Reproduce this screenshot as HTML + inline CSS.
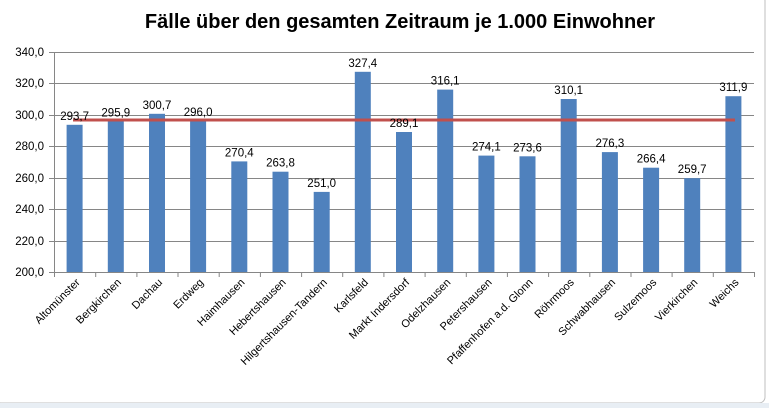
<!DOCTYPE html><html><head><style>body{margin:0;width:769px;height:408px;overflow:hidden;background:#fff;font-family:"Liberation Sans",sans-serif}</style></head><body>
<svg width="769" height="408" xmlns="http://www.w3.org/2000/svg" font-family="Liberation Sans, sans-serif">
<rect x="-5" y="-5" width="770" height="408" rx="6" fill="#fff" stroke="#bfbfbf"/>
<rect x="0" y="403" width="769" height="5" fill="#e8eef4"/>
<text x="400" y="28" font-size="20" font-weight="bold" text-anchor="middle">Fälle über den gesamten Zeitraum je 1.000 Einwohner</text>
<g stroke="#868686" stroke-width="1">
<line x1="49" y1="52.5" x2="754" y2="52.5"/><line x1="49" y1="83.5" x2="754" y2="83.5"/><line x1="49" y1="115.5" x2="754" y2="115.5"/><line x1="49" y1="146.5" x2="754" y2="146.5"/><line x1="49" y1="178.5" x2="754" y2="178.5"/><line x1="49" y1="209.5" x2="754" y2="209.5"/><line x1="49" y1="241.5" x2="754" y2="241.5"/><line x1="49" y1="272.5" x2="754" y2="272.5"/>
<line x1="54.5" y1="52" x2="54.5" y2="272"/>
<line x1="54.5" y1="272" x2="54.5" y2="277"/><line x1="95.7" y1="272" x2="95.7" y2="277"/><line x1="136.9" y1="272" x2="136.9" y2="277"/><line x1="178" y1="272" x2="178" y2="277"/><line x1="219.2" y1="272" x2="219.2" y2="277"/><line x1="260.4" y1="272" x2="260.4" y2="277"/><line x1="301.6" y1="272" x2="301.6" y2="277"/><line x1="342.7" y1="272" x2="342.7" y2="277"/><line x1="383.9" y1="272" x2="383.9" y2="277"/><line x1="425.1" y1="272" x2="425.1" y2="277"/><line x1="466.3" y1="272" x2="466.3" y2="277"/><line x1="507.4" y1="272" x2="507.4" y2="277"/><line x1="548.6" y1="272" x2="548.6" y2="277"/><line x1="589.8" y1="272" x2="589.8" y2="277"/><line x1="631" y1="272" x2="631" y2="277"/><line x1="672.1" y1="272" x2="672.1" y2="277"/><line x1="713.3" y1="272" x2="713.3" y2="277"/><line x1="754.5" y1="272" x2="754.5" y2="277"/>
</g>
<g font-size="11.5" text-anchor="end"><text x="44" y="56">340,0</text><text x="44" y="87">320,0</text><text x="44" y="119">300,0</text><text x="44" y="150">280,0</text><text x="44" y="182">260,0</text><text x="44" y="213">240,0</text><text x="44" y="245">220,0</text><text x="44" y="276">200,0</text></g>
<g fill="#4f81bd">
<rect x="66.6" y="124.8" width="16" height="147.2"/>
<rect x="107.8" y="121.3" width="16" height="150.7"/>
<rect x="149" y="113.8" width="16" height="158.2"/>
<rect x="190.1" y="121.1" width="16" height="150.9"/>
<rect x="231.3" y="161.4" width="16" height="110.6"/>
<rect x="272.5" y="171.7" width="16" height="100.3"/>
<rect x="313.7" y="191.9" width="16" height="80.1"/>
<rect x="354.8" y="71.8" width="16" height="200.2"/>
<rect x="396" y="132" width="16" height="140"/>
<rect x="437.2" y="89.6" width="16" height="182.4"/>
<rect x="478.4" y="155.6" width="16" height="116.4"/>
<rect x="519.5" y="156.3" width="16" height="115.7"/>
<rect x="560.7" y="99" width="16" height="173"/>
<rect x="601.9" y="152.1" width="16" height="119.9"/>
<rect x="643.1" y="167.7" width="16" height="104.3"/>
<rect x="684.2" y="178.2" width="16" height="93.8"/>
<rect x="725.4" y="96.2" width="16" height="175.8"/>
</g>
<line x1="73" y1="120" x2="735" y2="120" stroke="#c0504d" stroke-width="3"/>
<g font-size="11.5" text-anchor="middle">
<text x="74.6" y="119.8">293,7</text>
<text x="115.8" y="116.3">295,9</text>
<text x="157" y="108.8">300,7</text>
<text x="198.1" y="116.1">296,0</text>
<text x="239.3" y="156.4">270,4</text>
<text x="280.5" y="166.7">263,8</text>
<text x="321.7" y="186.9">251,0</text>
<text x="362.8" y="66.8">327,4</text>
<text x="404" y="127">289,1</text>
<text x="445.2" y="84.6">316,1</text>
<text x="486.4" y="150.6">274,1</text>
<text x="527.5" y="151.3">273,6</text>
<text x="568.7" y="94">310,1</text>
<text x="609.9" y="147.1">276,3</text>
<text x="651.1" y="162.7">266,4</text>
<text x="692.2" y="173.2">259,7</text>
<text x="733.4" y="91.2">311,9</text>
</g>
<g font-size="11" text-anchor="end">
<text transform="translate(80.6,283) rotate(-45)">Altomünster</text>
<text transform="translate(121.8,283) rotate(-45)">Bergkirchen</text>
<text transform="translate(163,283) rotate(-45)">Dachau</text>
<text transform="translate(204.1,283) rotate(-45)">Erdweg</text>
<text transform="translate(245.3,283) rotate(-45)">Haimhausen</text>
<text transform="translate(286.5,283) rotate(-45)">Hebertshausen</text>
<text transform="translate(327.7,283) rotate(-45)">Hilgertshausen-Tandern</text>
<text transform="translate(368.8,283) rotate(-45)">Karlsfeld</text>
<text transform="translate(410,283) rotate(-45)">Markt Indersdorf</text>
<text transform="translate(451.2,283) rotate(-45)">Odelzhausen</text>
<text transform="translate(492.4,283) rotate(-45)">Petershausen</text>
<text transform="translate(533.5,283) rotate(-45)">Pfaffenhofen a.d. Glonn</text>
<text transform="translate(574.7,283) rotate(-45)">Röhrmoos</text>
<text transform="translate(615.9,283) rotate(-45)">Schwabhausen</text>
<text transform="translate(657.1,283) rotate(-45)">Sulzemoos</text>
<text transform="translate(698.2,283) rotate(-45)">Vierkirchen</text>
<text transform="translate(739.4,283) rotate(-45)">Weichs</text>
</g>
</svg></body></html>
